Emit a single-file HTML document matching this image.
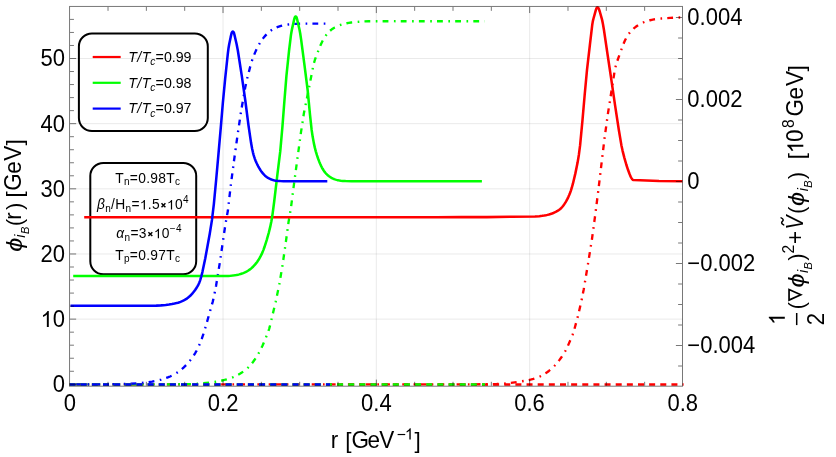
<!DOCTYPE html>
<html><head><meta charset="utf-8"><title>plot</title>
<style>html,body{margin:0;padding:0;background:#fff;}body{width:836px;height:457px;overflow:hidden;font-family:"Liberation Sans",sans-serif;}</style></head>
<body>
<svg width="836" height="457" viewBox="0 0 836 457" font-family="'Liberation Sans', sans-serif" style="display:block;font-kerning:none;will-change:transform">
<rect width="836" height="457" fill="#ffffff"/>
<path d="M223.02,6.45V386.2 M376.34,6.45V386.2 M529.66,6.45V386.2" stroke="#808080" stroke-opacity="0.4" stroke-width="0.42" fill="none"/>
<path d="M69.55,319.14H682.5 M69.55,253.98H682.5 M69.55,188.82H682.5 M69.55,123.66H682.5 M69.55,58.50H682.5" stroke="#808080" stroke-opacity="0.4" stroke-width="0.42" fill="none"/>
<rect x="78.9" y="33.4" width="128.9" height="97.6" rx="13" ry="13" fill="none" stroke="#000" stroke-width="2"/>
<rect x="90.3" y="162.9" width="105.9" height="111.4" rx="13" ry="13" fill="none" stroke="#000" stroke-width="2"/>
<clipPath id="cp"><rect x="69.55" y="4.95" width="614.55" height="382.75"/></clipPath>
<g clip-path="url(#cp)" fill="none" stroke-linejoin="round">
<path d="M69.60,384.40 94.80,384.40 119.80,384.40 144.80,384.40 170.00,384.40 195.20,384.40 220.40,384.40 245.60,384.40 270.60,384.40 295.80,384.40 320.80,384.40 345.80,384.40 371.00,384.40 396.20,384.40 421.20,384.40 446.40,384.40 471.60,384.39 496.80,384.00 503.19,383.66 507.96,383.22 517.09,382.05 526.56,380.53 529.31,379.98 531.45,379.48 533.37,378.94 535.27,378.33 537.15,377.65 538.81,376.97 540.26,376.31 541.69,375.60 543.09,374.84 544.47,374.02 545.98,373.05 547.45,372.02 548.88,370.94 550.27,369.80 551.77,368.48 553.22,367.11 554.77,365.54 556.25,363.92 557.80,362.09 559.52,359.89 561.41,357.31 562.97,354.99 564.24,352.95 565.32,351.04 566.34,349.10 567.80,346.03 571.49,337.60 572.51,335.00 573.38,332.55 574.32,329.49 578.10,315.39 581.19,302.15 583.76,289.20 587.91,264.35 591.91,239.47 595.28,214.50 598.43,189.49 601.40,164.47 604.39,139.45 607.80,114.48 611.71,89.59 614.58,71.42 615.26,68.09 615.82,65.75 616.42,63.64 617.34,60.79 622.27,47.05 623.97,42.78 624.94,40.58 625.73,38.97 626.48,37.56 627.29,36.19 628.04,35.01 628.72,34.03 629.44,33.07 630.19,32.14 630.97,31.24 631.79,30.37 632.64,29.53 633.66,28.58 634.73,27.68 635.82,26.82 636.95,25.99 638.10,25.21 639.28,24.47 640.32,23.87 641.38,23.31 642.45,22.80 643.73,22.24 645.03,21.74 646.54,21.21 648.26,20.69 650.00,20.23 651.75,19.84 653.91,19.44 656.88,19.00 661.45,18.49 670.22,17.85 677.20,17.53 682.80,17.50" stroke="#ff0000" stroke-width="2.35" stroke-dasharray="1.6510 5.1531 5.8035 5.5033" stroke-dashoffset="0.15"/>
<path d="M69.60,384.40 94.80,384.40 119.80,384.40 144.80,384.40 170.00,384.40 190.60,384.12 196.99,383.77 209.14,382.68 214.10,382.06 217.65,381.48 221.17,380.77 224.48,379.98 227.37,379.18 229.84,378.39 231.91,377.65 233.58,376.98 235.22,376.25 236.83,375.46 238.59,374.51 240.31,373.50 241.83,372.54 243.31,371.52 244.75,370.44 245.99,369.44 247.19,368.39 248.35,367.30 249.47,366.16 250.54,364.98 251.83,363.45 253.18,361.72 254.59,359.78 256.03,357.62 257.61,355.07 259.19,352.29 260.76,349.28 262.48,345.67 264.78,340.34 267.91,332.55 268.64,330.48 269.23,328.57 269.96,325.87 275.78,301.35 279.30,284.52 282.55,264.99 286.12,240.04 288.55,222.01 290.95,207.82 294.15,182.82 297.52,157.85 300.89,132.88 303.86,113.50 308.83,88.80 313.30,65.63 314.00,62.92 314.80,60.24 315.83,57.21 319.07,48.82 320.83,44.57 321.93,42.22 322.93,40.26 323.81,38.70 324.64,37.33 325.41,36.17 326.22,35.04 326.95,34.09 327.72,33.18 328.52,32.29 329.22,31.58 329.94,30.90 330.69,30.25 331.46,29.62 332.26,29.03 333.08,28.47 333.92,27.95 334.78,27.45 335.84,26.90 336.92,26.39 338.20,25.83 339.69,25.26 341.39,24.67 343.30,24.10 345.03,23.64 346.79,23.24 348.75,22.87 351.32,22.49 355.09,22.07 362.07,21.55 368.86,21.26 394.06,21.20 419.06,21.20 444.06,21.20 469.26,21.20 484.80,21.20" stroke="#00ff00" stroke-width="2.35" stroke-dasharray="1.6540 5.1624 5.8139 5.5132" stroke-dashoffset="0.15"/>
<path d="M69.60,384.40 94.80,384.40 120.00,384.19 130.19,383.77 141.36,382.96 147.92,382.24 152.07,381.63 155.02,381.09 157.95,380.44 161.23,379.58 164.11,378.72 166.38,377.95 168.43,377.16 170.08,376.46 171.71,375.70 173.31,374.88 174.87,374.00 176.41,373.07 177.91,372.08 179.37,371.03 180.79,369.94 182.33,368.66 183.82,367.33 185.25,365.94 186.64,364.51 188.11,362.87 189.77,360.88 191.49,358.66 192.89,356.72 194.10,354.89 195.25,353.02 196.33,351.10 197.53,348.80 198.89,345.90 200.31,342.60 201.82,338.68 203.45,333.95 205.83,326.11 212.71,301.87 213.82,297.20 216.13,285.43 220.16,260.55 223.73,235.61 225.70,222.76 227.87,210.76 230.74,185.72 234.01,160.74 237.44,135.77 241.15,110.85 245.20,87.60 246.99,79.19 250.29,66.41 251.56,61.99 252.50,59.14 253.54,56.33 255.06,52.63 256.88,48.63 258.12,46.12 259.07,44.37 259.98,42.82 260.95,41.30 261.97,39.83 263.05,38.39 264.17,36.99 265.35,35.63 266.57,34.31 267.56,33.33 268.43,32.51 269.34,31.73 270.12,31.11 270.92,30.53 271.74,29.97 272.58,29.44 273.44,28.95 274.50,28.39 275.58,27.88 276.68,27.41 277.98,26.90 279.49,26.38 281.01,25.92 282.75,25.46 284.50,25.08 286.27,24.75 288.25,24.47 291.23,24.16 295.42,23.86 301.41,23.67 325.60,23.60" stroke="#0000ff" stroke-width="2.35" stroke-dasharray="1.6516 5.1551 5.8058 5.5055" stroke-dashoffset="0.15"/>
<path d="M69.6,384.4H683.6" stroke="#ff0000" stroke-width="2.55" stroke-dasharray="6.0 5.145"/>
<path d="M69.6,384.4H485.0" stroke="#00ff00" stroke-width="2.55" stroke-dasharray="6.0 5.145"/>
<path d="M69.6,384.4H330.0" stroke="#0000ff" stroke-width="2.55" stroke-dasharray="6.0 5.145"/>
<path d="M84.20,217.20 109.20,217.20 134.40,217.20 159.40,217.20 184.40,217.20 209.60,217.20 234.80,217.20 260.00,217.20 285.20,217.20 310.40,217.20 335.60,217.20 360.80,217.20 386.00,217.19 411.20,217.18 436.40,217.16 461.60,217.14 486.80,217.12 511.99,216.76 534.99,216.46 539.37,216.15 542.15,215.84 544.13,215.55 545.90,215.22 547.45,214.87 549.00,214.46 550.52,213.99 552.03,213.47 553.33,212.97 554.61,212.41 555.69,211.90 556.57,211.43 557.43,210.94 558.27,210.41 558.92,209.96 559.55,209.48 560.16,208.99 560.75,208.46 561.32,207.91 561.87,207.34 562.39,206.75 563.02,205.98 563.74,205.03 564.53,203.88 565.50,202.37 566.50,200.64 567.44,198.88 568.32,197.09 569.21,195.08 570.02,193.04 570.90,190.59 571.80,187.74 572.92,183.69 575.37,173.38 577.59,162.60 578.89,154.71 580.12,145.19 582.49,120.10 584.67,95.00 587.00,69.91 589.89,44.87 592.24,24.81 592.74,21.86 593.11,20.10 593.45,18.74 595.88,9.87 596.14,9.12 596.36,8.57 596.62,8.06 596.94,7.64 597.31,7.40 597.83,7.46 598.19,7.77 598.50,8.23 598.77,8.75 599.00,9.30 599.34,10.24 599.83,11.76 601.69,18.30 602.26,20.63 602.94,23.96 603.96,30.08 607.64,55.00 611.36,79.93 615.00,104.86 618.80,129.78 621.38,145.16 622.60,150.83 624.31,157.62 626.35,164.73 628.09,170.05 629.47,173.79 630.21,175.62 630.53,176.34 630.88,177.04 631.35,177.90 631.66,178.41 631.99,178.91 632.24,179.25 632.50,179.58 632.90,179.88 633.28,180.02 633.87,180.09 659.02,181.08 682.50,181.30" stroke="#ff0000" stroke-width="2.55"/>
<path d="M73.20,276.00 98.40,276.00 123.60,276.00 148.80,276.00 174.00,276.00 199.00,276.00 224.20,275.99 228.40,275.91 230.59,275.78 232.58,275.60 234.56,275.34 236.33,275.04 237.89,274.72 239.25,274.38 240.59,274.00 241.91,273.57 243.22,273.08 244.33,272.62 245.41,272.12 246.47,271.58 247.52,271.00 248.36,270.48 249.19,269.93 250.00,269.35 250.79,268.74 251.55,268.11 252.43,267.31 253.29,266.47 254.25,265.46 255.17,264.41 256.18,263.17 257.13,261.90 258.04,260.59 258.90,259.24 259.82,257.69 260.76,255.94 261.65,254.15 262.55,252.14 263.37,250.11 264.39,247.29 266.69,240.04 268.78,232.74 270.21,226.91 271.39,221.24 272.40,215.32 274.23,201.24 277.20,176.22 280.27,151.21 282.47,126.10 284.40,100.98 286.43,75.86 289.03,50.80 290.94,35.11 291.63,30.97 292.11,28.62 294.15,19.45 294.42,18.49 294.60,17.92 294.82,17.37 295.07,16.89 295.38,16.54 295.84,16.44 296.16,16.68 296.43,17.11 296.65,17.63 296.83,18.20 297.28,19.94 299.52,29.69 300.17,33.22 301.20,40.15 304.48,65.13 307.65,90.13 310.05,115.22 311.61,129.73 312.68,136.85 313.84,143.14 314.83,147.63 315.79,151.31 316.93,155.14 318.15,158.74 319.35,161.92 320.36,164.31 321.20,166.12 321.92,167.54 322.60,168.76 323.22,169.78 323.88,170.78 324.45,171.59 325.06,172.37 325.57,172.98 326.10,173.57 326.65,174.14 327.22,174.69 327.81,175.22 328.43,175.72 329.05,176.20 329.86,176.78 330.70,177.32 331.55,177.82 332.43,178.28 333.32,178.71 334.23,179.11 334.97,179.39 335.72,179.65 336.48,179.88 337.44,180.13 338.41,180.34 339.58,180.55 340.96,180.74 342.75,180.91 345.54,181.08 351.54,181.23 376.74,181.25 401.74,181.25 426.74,181.25 451.74,181.25 476.91,181.25 481.90,181.25" stroke="#00ff00" stroke-width="2.55"/>
<path d="M70.50,305.70 95.70,305.70 120.70,305.70 145.90,305.70 156.30,305.61 160.89,305.36 165.67,304.94 169.04,304.52 172.00,304.04 174.55,303.53 176.49,303.08 178.03,302.66 179.36,302.24 180.49,301.84 181.60,301.40 182.69,300.92 183.76,300.39 184.64,299.92 185.50,299.42 186.34,298.89 187.15,298.33 187.95,297.73 188.72,297.10 189.62,296.32 190.49,295.50 191.32,294.64 192.26,293.61 193.16,292.54 194.14,291.28 195.31,289.67 196.43,288.01 197.27,286.66 197.86,285.62 198.41,284.56 198.92,283.48 199.39,282.38 199.88,281.08 200.44,279.37 201.28,276.50 202.45,271.84 205.24,258.53 209.75,233.74 211.97,219.92 213.88,203.83 216.26,178.75 218.50,153.65 220.69,128.54 222.81,103.43 225.19,78.35 227.86,53.29 228.55,47.93 229.19,44.19 230.66,37.14 231.48,33.64 231.64,33.06 231.84,32.52 232.10,32.03 232.43,31.69 232.94,31.58 233.31,31.80 233.62,32.20 233.86,32.72 234.05,33.27 234.26,34.04 236.58,43.98 237.84,50.45 241.71,75.35 245.26,100.30 248.49,125.29 251.10,143.10 252.19,149.00 252.93,152.32 253.59,154.83 254.22,156.93 254.86,158.83 255.57,160.69 256.35,162.53 257.20,164.33 258.21,166.29 259.28,168.21 260.21,169.74 260.98,170.91 261.67,171.88 262.28,172.67 262.91,173.43 263.58,174.17 264.27,174.88 264.84,175.42 265.44,175.95 266.05,176.45 266.68,176.93 267.33,177.38 268.00,177.81 268.68,178.21 269.38,178.59 270.09,178.93 270.81,179.26 271.55,179.55 272.29,179.81 273.05,180.04 273.81,180.25 274.78,180.47 275.76,180.64 276.94,180.81 278.32,180.96 280.32,181.09 283.51,181.18 308.71,181.20 327.30,181.20" stroke="#0000ff" stroke-width="2.55"/>
</g>
<path d="M108.03,385.7v-3.9000000000000004 M108.03,6.95v3.9000000000000004 M146.36,385.7v-3.9000000000000004 M146.36,6.95v3.9000000000000004 M184.69,385.7v-3.9000000000000004 M184.69,6.95v3.9000000000000004 M223.02,385.7v-6.1 M223.02,6.95v6.1 M261.35,385.7v-3.9000000000000004 M261.35,6.95v3.9000000000000004 M299.68,385.7v-3.9000000000000004 M299.68,6.95v3.9000000000000004 M338.01,385.7v-3.9000000000000004 M338.01,6.95v3.9000000000000004 M376.34,385.7v-6.1 M376.34,6.95v6.1 M414.67,385.7v-3.9000000000000004 M414.67,6.95v3.9000000000000004 M453.00,385.7v-3.9000000000000004 M453.00,6.95v3.9000000000000004 M491.33,385.7v-3.9000000000000004 M491.33,6.95v3.9000000000000004 M529.66,385.7v-6.1 M529.66,6.95v6.1 M567.99,385.7v-3.9000000000000004 M567.99,6.95v3.9000000000000004 M606.32,385.7v-3.9000000000000004 M606.32,6.95v3.9000000000000004 M644.65,385.7v-3.9000000000000004 M644.65,6.95v3.9000000000000004 M70.05,384.30h6.1 M70.05,371.27h3.9000000000000004 M70.05,358.24h3.9000000000000004 M70.05,345.20h3.9000000000000004 M70.05,332.17h3.9000000000000004 M70.05,319.14h6.1 M70.05,306.11h3.9000000000000004 M70.05,293.08h3.9000000000000004 M70.05,280.04h3.9000000000000004 M70.05,267.01h3.9000000000000004 M70.05,253.98h6.1 M70.05,240.95h3.9000000000000004 M70.05,227.92h3.9000000000000004 M70.05,214.88h3.9000000000000004 M70.05,201.85h3.9000000000000004 M70.05,188.82h6.1 M70.05,175.79h3.9000000000000004 M70.05,162.76h3.9000000000000004 M70.05,149.72h3.9000000000000004 M70.05,136.69h3.9000000000000004 M70.05,123.66h6.1 M70.05,110.63h3.9000000000000004 M70.05,97.60h3.9000000000000004 M70.05,84.56h3.9000000000000004 M70.05,71.53h3.9000000000000004 M70.05,58.50h6.1 M70.05,45.47h3.9000000000000004 M70.05,32.44h3.9000000000000004 M70.05,19.40h3.9000000000000004 M682.0,366.00h-3.9000000000000004 M682.0,345.50h-6.1 M682.0,325.00h-3.9000000000000004 M682.0,304.50h-3.9000000000000004 M682.0,284.00h-3.9000000000000004 M682.0,263.50h-6.1 M682.0,243.00h-3.9000000000000004 M682.0,222.50h-3.9000000000000004 M682.0,202.00h-3.9000000000000004 M682.0,181.50h-6.1 M682.0,161.00h-3.9000000000000004 M682.0,140.50h-3.9000000000000004 M682.0,120.00h-3.9000000000000004 M682.0,99.50h-6.1 M682.0,79.00h-3.9000000000000004 M682.0,58.50h-3.9000000000000004 M682.0,38.00h-3.9000000000000004 M682.0,17.50h-6.1" stroke="#000" stroke-opacity="0.53" stroke-width="1" fill="none"/>
<rect x="69.55" y="6.45" width="612.95" height="379.75" fill="none" stroke="#000" stroke-opacity="0.53" stroke-width="1"/>
<text transform="translate(52.84,392.20) scale(0.95,1)" font-size="23.2">0</text>
<path transform="translate(40.58,327.04) scale(0.01076,-0.01133)" d="M763,0L583,0L583,1098C540,1057 483,1016 413,975C343,934 280,903 223,882L223,1049C324,1097 412,1154 487,1222C562,1290 616,1355 647,1409L763,1409Z" fill="#000"/><text transform="translate(52.84,327.04) scale(0.95,1)" font-size="23.2">0</text>
<text transform="translate(40.58,261.88) scale(0.95,1)" font-size="23.2">20</text>
<text transform="translate(40.58,196.72) scale(0.95,1)" font-size="23.2">30</text>
<text transform="translate(40.58,131.56) scale(0.95,1)" font-size="23.2">40</text>
<text transform="translate(40.58,66.40) scale(0.95,1)" font-size="23.2">50</text>
<text transform="translate(63.72,410.70) scale(0.95,1)" font-size="23.2">0</text>
<text transform="translate(207.77,410.70) scale(0.95,1)" font-size="23.2">0.2</text>
<text transform="translate(361.01,410.70) scale(0.95,1)" font-size="23.2">0.4</text>
<text transform="translate(514.25,410.70) scale(0.95,1)" font-size="23.2">0.6</text>
<text transform="translate(667.49,410.70) scale(0.95,1)" font-size="23.2">0.8</text>
<text transform="translate(687.30,25.30) scale(0.95,1)" font-size="23.2">0.004</text>
<text transform="translate(687.30,107.30) scale(0.95,1)" font-size="23.2">0.002</text>
<text transform="translate(687.30,189.30) scale(0.95,1)" font-size="23.2">0</text>
<text transform="translate(687.30,271.30) scale(0.95,1)" font-size="23.2">−0.002</text>
<text transform="translate(687.30,353.30) scale(0.95,1)" font-size="23.2">−0.004</text>
<text transform="translate(330.71,448.00) scale(0.97,1)" font-size="23.2">r</text><text transform="translate(345.30,448.22) scale(0.97,0.955)" font-size="23.2">[</text><text transform="translate(351.47,448.00) scale(0.97,1)" font-size="23.2">G</text><text transform="translate(367.54,448.00) scale(0.97,1)" font-size="23.2">e</text><text transform="translate(379.30,448.00) scale(0.97,1)" font-size="23.2">V</text><text transform="translate(396.83,439.60) scale(0.95,1)" font-size="16.5">−</text><path transform="translate(404.89,439.60) scale(0.00765,-0.00806)" d="M763,0L583,0L583,1098C540,1057 483,1016 413,975C343,934 280,903 223,882L223,1049C324,1097 412,1154 487,1222C562,1290 616,1355 647,1409L763,1409Z" fill="#000"/><text transform="translate(414.62,448.22) scale(0.97,0.955)" font-size="23.2">]</text>
<g transform="translate(21.3,250.9) rotate(-90)"><text transform="translate(-0.82,0.22) scale(1.1,0.955)" font-size="23.2" font-style="italic">ϕ</text><text transform="translate(13.17,3.90) scale(0.95,1)" font-size="15.0" font-style="italic">i</text><text transform="translate(16.96,7.70) scale(0.95,1)" font-size="11.7" font-style="italic">B</text><text transform="translate(24.60,0.22) scale(0.97,0.955)" font-size="23.2">(</text><text transform="translate(31.11,0.00) scale(0.97,1)" font-size="23.2">r</text><text transform="translate(40.87,0.22) scale(0.97,0.955)" font-size="23.2">)</text><text transform="translate(53.30,0.22) scale(0.97,0.955)" font-size="23.2">[</text><text transform="translate(60.07,0.00) scale(0.97,1)" font-size="23.2">G</text><text transform="translate(77.04,0.00) scale(0.97,1)" font-size="23.2">e</text><text transform="translate(90.20,0.00) scale(0.97,1)" font-size="23.2">V</text><text transform="translate(105.42,0.22) scale(0.97,0.955)" font-size="23.2">]</text></g>
<g transform="translate(803.3,325.1) rotate(-90)"><path transform="translate(0.20,-18.50) scale(0.01076,-0.01133)" d="M763,0L583,0L583,1098C540,1057 483,1016 413,975C343,934 280,903 223,882L223,1049C324,1097 412,1154 487,1222C562,1290 616,1355 647,1409L763,1409Z" fill="#000"/><path d="M0,-6.6H12.1" stroke="#000" stroke-width="1.5" fill="none"/><text transform="translate(-0.08,20.90) scale(0.95,1)" font-size="23.2">2</text><text transform="translate(15.60,0.22) scale(0.97,0.955)" font-size="23.2">(</text><path d="M25.0,-14.25H35.6L30.3,-2.5Z" fill="none" stroke="#000" stroke-width="1.7" stroke-linejoin="miter" stroke-miterlimit="10"/><text transform="translate(37.48,0.22) scale(1.1,0.955)" font-size="23.2" font-style="italic">ϕ</text><text transform="translate(52.17,4.30) scale(0.95,1)" font-size="15.0" font-style="italic">i</text><text transform="translate(55.66,8.20) scale(0.95,1)" font-size="11.7" font-style="italic">B</text><text transform="translate(64.27,0.22) scale(0.97,0.955)" font-size="23.2">)</text><text transform="translate(71.61,-9.50) scale(0.95,1)" font-size="16.5">2</text><text transform="translate(81.20,0.00) scale(0.97,1)" font-size="23.2">+</text><text transform="translate(95.60,0.00) scale(0.9,1)" font-size="23.2" font-style="italic">V</text><path d="M100.2,-19.6c1.2,-2.4 2.6,-2.6 3.6,-1.3c1.0,1.3 2.4,1.1 3.4,-1.3" fill="none" stroke="#000" stroke-width="1.5" stroke-linecap="round"/><text transform="translate(111.10,0.22) scale(0.97,0.955)" font-size="23.2">(</text><text transform="translate(119.18,0.22) scale(1.1,0.955)" font-size="23.2" font-style="italic">ϕ</text><text transform="translate(133.87,4.30) scale(0.95,1)" font-size="15.0" font-style="italic">i</text><text transform="translate(137.36,8.20) scale(0.95,1)" font-size="11.7" font-style="italic">B</text><text transform="translate(145.87,0.22) scale(0.97,0.955)" font-size="23.2">)</text><text transform="translate(165.90,0.22) scale(0.97,0.955)" font-size="23.2">[</text><path transform="translate(171.85,0.00) scale(0.01099,-0.01133)" d="M763,0L583,0L583,1098C540,1057 483,1016 413,975C343,934 280,903 223,882L223,1049C324,1097 412,1154 487,1222C562,1290 616,1355 647,1409L763,1409Z" fill="#000"/><text transform="translate(183.12,0.00) scale(0.97,1)" font-size="23.2">0</text><text transform="translate(197.02,-9.70) scale(0.95,1)" font-size="16.5">8</text><text transform="translate(208.67,0.00) scale(0.97,1)" font-size="23.2">G</text><text transform="translate(225.64,0.00) scale(0.97,1)" font-size="23.2">e</text><text transform="translate(239.10,0.00) scale(0.97,1)" font-size="23.2">V</text><text transform="translate(253.52,0.22) scale(0.97,0.955)" font-size="23.2">]</text></g>
<path d="M92.7,57.00H120.7" stroke="#ff0000" stroke-width="2.2" fill="none"/>
<text transform="translate(128.20,61.80) scale(1.0,1)" font-size="14.2" font-style="italic">T</text>
<text transform="translate(137.37,61.80) scale(1.0,1)" font-size="14.2" font-style="italic">/</text>
<text transform="translate(141.82,61.80) scale(1.0,1)" font-size="14.2" font-style="italic">T</text>
<text transform="translate(150.19,65.10) scale(1.0,1)" font-size="10.2" font-style="italic">c</text>
<text transform="translate(155.59,61.80) scale(1.0,1)" font-size="14.2">=0.99</text>
<path d="M92.7,82.80H120.7" stroke="#00ff00" stroke-width="2.2" fill="none"/>
<text transform="translate(128.20,87.60) scale(1.0,1)" font-size="14.2" font-style="italic">T</text>
<text transform="translate(137.37,87.60) scale(1.0,1)" font-size="14.2" font-style="italic">/</text>
<text transform="translate(141.82,87.60) scale(1.0,1)" font-size="14.2" font-style="italic">T</text>
<text transform="translate(150.19,90.90) scale(1.0,1)" font-size="10.2" font-style="italic">c</text>
<text transform="translate(155.59,87.60) scale(1.0,1)" font-size="14.2">=0.98</text>
<path d="M92.7,108.60H120.7" stroke="#0000ff" stroke-width="2.2" fill="none"/>
<text transform="translate(128.20,113.40) scale(1.0,1)" font-size="14.2" font-style="italic">T</text>
<text transform="translate(137.37,113.40) scale(1.0,1)" font-size="14.2" font-style="italic">/</text>
<text transform="translate(141.82,113.40) scale(1.0,1)" font-size="14.2" font-style="italic">T</text>
<text transform="translate(150.19,116.70) scale(1.0,1)" font-size="10.2" font-style="italic">c</text>
<text transform="translate(155.59,113.40) scale(1.0,1)" font-size="14.2">=0.97</text>
<text transform="translate(115.15,182.70) scale(1.0,1)" font-size="13.8">T</text><text transform="translate(123.91,185.40) scale(1.0,1)" font-size="10.0">n</text><text transform="translate(129.80,182.70) scale(1.0,1)" font-size="13.8">=</text><text transform="translate(138.19,182.70) scale(1.0,1)" font-size="13.8">0</text><text transform="translate(146.19,182.70) scale(1.0,1)" font-size="13.8">.</text><text transform="translate(150.35,182.70) scale(1.0,1)" font-size="13.8">9</text><text transform="translate(158.36,182.70) scale(1.0,1)" font-size="13.8">8</text><text transform="translate(166.36,182.70) scale(1.0,1)" font-size="13.8">T</text><text transform="translate(175.12,185.40) scale(1.0,1)" font-size="10.0">c</text>
<text transform="translate(96.94,209.40) scale(1.0,1)" font-size="13.8" font-style="italic">β</text><text transform="translate(105.15,212.10) scale(1.0,1)" font-size="10.0">n</text><text transform="translate(111.04,209.40) scale(1.0,1)" font-size="13.8">/</text><text transform="translate(115.21,209.40) scale(1.0,1)" font-size="13.8">H</text><text transform="translate(125.50,212.10) scale(1.0,1)" font-size="10.0">n</text><text transform="translate(131.40,209.40) scale(1.0,1)" font-size="13.8">=</text><path transform="translate(139.79,209.40) scale(0.00674,-0.00674)" d="M763,0L583,0L583,1098C540,1057 483,1016 413,975C343,934 280,903 223,882L223,1049C324,1097 412,1154 487,1222C562,1290 616,1355 647,1409L763,1409Z" fill="#000"/><text transform="translate(147.79,209.40) scale(1.0,1)" font-size="13.8">.</text><text transform="translate(151.95,209.40) scale(1.0,1)" font-size="13.8">5</text><path d="M161.51,203.35L165.41,207.25M161.51,207.25L165.41,203.35" stroke="#000" stroke-width="1.45" fill="none"/><path transform="translate(166.96,209.40) scale(0.00674,-0.00674)" d="M763,0L583,0L583,1098C540,1057 483,1016 413,975C343,934 280,903 223,882L223,1049C324,1097 412,1154 487,1222C562,1290 616,1355 647,1409L763,1409Z" fill="#000"/><text transform="translate(174.96,209.40) scale(1.0,1)" font-size="13.8">0</text><text transform="translate(182.97,203.10) scale(1.0,1)" font-size="10.0">4</text>
<text transform="translate(116.37,238.20) scale(1.0,1)" font-size="13.8" font-style="italic">α</text><text transform="translate(124.57,240.90) scale(1.0,1)" font-size="10.0">n</text><text transform="translate(130.46,238.20) scale(1.0,1)" font-size="13.8">=</text><text transform="translate(138.85,238.20) scale(1.0,1)" font-size="13.8">3</text><path d="M148.41,232.15L152.31,236.05M148.41,236.05L152.31,232.15" stroke="#000" stroke-width="1.45" fill="none"/><path transform="translate(153.86,238.20) scale(0.00674,-0.00674)" d="M763,0L583,0L583,1098C540,1057 483,1016 413,975C343,934 280,903 223,882L223,1049C324,1097 412,1154 487,1222C562,1290 616,1355 647,1409L763,1409Z" fill="#000"/><text transform="translate(161.86,238.20) scale(1.0,1)" font-size="13.8">0</text><text transform="translate(169.87,231.90) scale(1.0,1)" font-size="10.0">−</text><text transform="translate(176.04,231.90) scale(1.0,1)" font-size="10.0">4</text>
<text transform="translate(115.15,259.50) scale(1.0,1)" font-size="13.8">T</text><text transform="translate(123.91,262.20) scale(1.0,1)" font-size="10.0">p</text><text transform="translate(129.80,259.50) scale(1.0,1)" font-size="13.8">=</text><text transform="translate(138.19,259.50) scale(1.0,1)" font-size="13.8">0</text><text transform="translate(146.19,259.50) scale(1.0,1)" font-size="13.8">.</text><text transform="translate(150.35,259.50) scale(1.0,1)" font-size="13.8">9</text><text transform="translate(158.36,259.50) scale(1.0,1)" font-size="13.8">7</text><text transform="translate(166.36,259.50) scale(1.0,1)" font-size="13.8">T</text><text transform="translate(175.12,262.20) scale(1.0,1)" font-size="10.0">c</text>
</svg>
</body></html>
